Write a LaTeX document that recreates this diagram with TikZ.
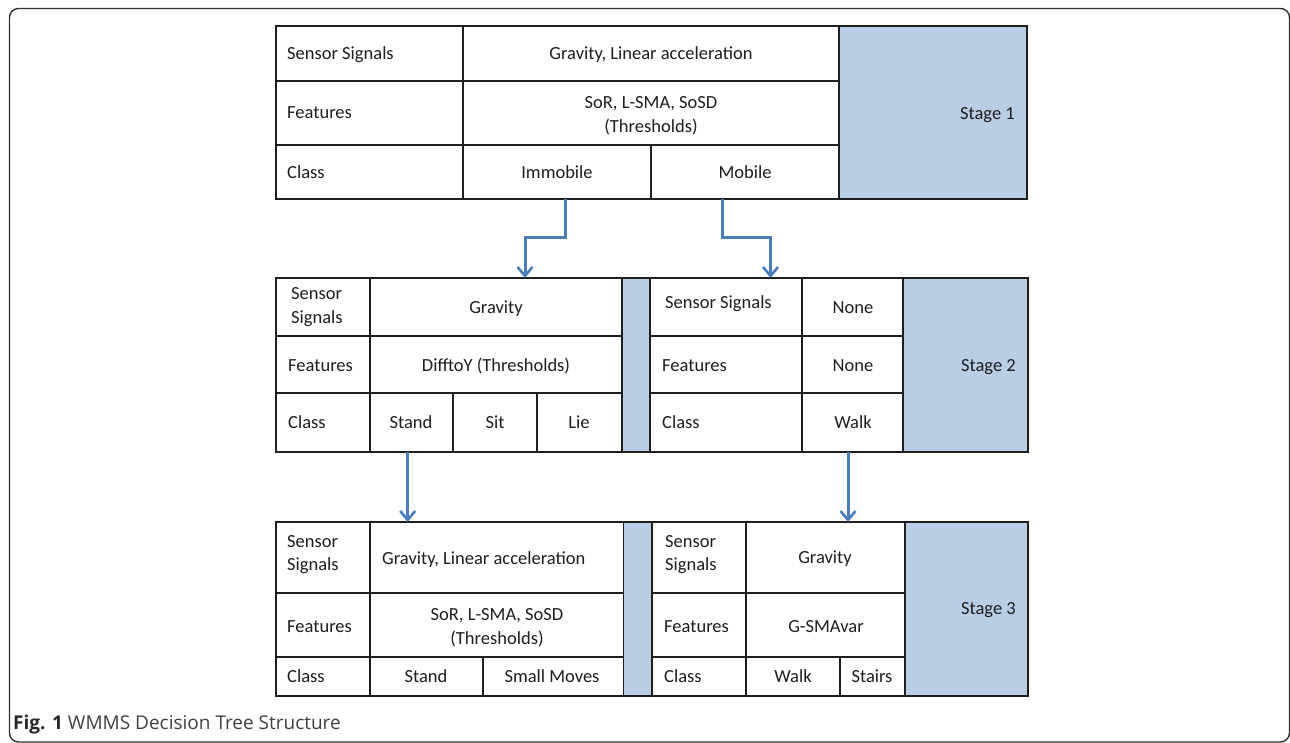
\documentclass[tikz,border=0pt]{standalone}
\usepackage{fontspec}
\setmainfont{Carlito}
\newfontfamily\capfont{Open Sans}
\usetikzlibrary{arrows.meta}
\definecolor{stageblue}{RGB}{185,205,229}
\definecolor{arrblue}{RGB}{74,126,187}
\definecolor{ink}{RGB}{30,30,30}
\definecolor{capgray}{RGB}{64,64,64}
\newcommand\mkcell[6][cellbox]{%
  \node[#1, minimum width={(#5-#3)*1pt}, minimum height={(#6-#4)*1pt}] (#2) at ({(#3+#5)/2},{(#4+#6)/2}) {};}
\begin{document}
\begin{tikzpicture}[x=1pt,y=-1pt,
  cellbox/.style={draw=ink, line width=1.9pt, fill=white, inner sep=0pt, outer sep=0pt, rectangle},
  bluebox/.style={cellbox, fill=stageblue},
  txt/.style={inner sep=0pt, text=ink, font=\fontsize{18.5}{22}\selectfont, text height=11.9pt, text depth=0pt},
  ltxt/.style={txt, anchor=west},
  btxt/.style={inner sep=0pt, text=ink, font=\fontsize{18.5}{22}\selectfont, anchor=base},
  bltxt/.style={btxt, anchor=base west},
  stagetxt/.style={txt, anchor=east},
  arr/.style={draw=arrblue, line width=3pt, -{Straight Barb[length=9pt,width=15pt,line width=2.6pt]}},
  frame/.style={draw=black!80, line width=1.4pt, rounded corners=9pt}]
\useasboundingbox (0,0) rectangle (1290,743);
\clip (0,0) rectangle (1290,743);
\draw[frame] (9.5,8.5) rectangle (1289.5,742);

% ---------- Stage 1 ----------
\mkcell{s1lab1}{276}{26}{463}{81}
\mkcell{s1lab2}{276}{81}{463}{145}
\mkcell{s1lab3}{276}{145}{463}{199}
\mkcell{s1sig}{463}{26}{839}{81}
\mkcell{s1feat}{463}{81}{839}{145}
\mkcell{s1imm}{463}{145}{651}{199}
\mkcell{s1mob}{651}{145}{839}{199}
\mkcell[bluebox]{s1stage}{839}{26}{1027}{199}
\node[ltxt] (t1a) at (287,54) {Sensor Signals};
\node[ltxt] (t1b) at (287,113) {Features};
\node[ltxt] (t1c) at (287,173) {Class};
\node[txt] (t1d) at (651,54) {Gravity, Linear acceleration};
\node[btxt] (t1e) at (651,109) {SoR, L-SMA, SoSD};
\node[btxt] (t1e2) at (651,133) {(Thresholds)};
\node[txt] (t1f) at (557,173) {Immobile};
\node[txt] (t1g) at (745,173) {Mobile};
\node[stagetxt] (t1s) at (1015,114) {Stage 1};

% ---------- Stage 2 ----------
\mkcell{s2lab1}{276}{278}{370}{336}
\mkcell{s2lab2}{276}{336}{370}{393}
\mkcell{s2lab3}{276}{393}{370}{452}
\mkcell{s2grav}{370}{278}{622}{336}
\mkcell{s2feat}{370}{336}{622}{393}
\mkcell{s2stand}{370}{393}{453}{452}
\mkcell{s2sit}{453}{393}{537}{452}
\mkcell{s2lie}{537}{393}{622}{452}
\mkcell[bluebox]{s2strip}{622}{278}{650}{452}
\mkcell{s2rlab1}{650}{278}{802}{336}
\mkcell{s2rlab2}{650}{336}{802}{393}
\mkcell{s2rlab3}{650}{393}{802}{452}
\mkcell{s2none1}{802}{278}{903}{336}
\mkcell{s2none2}{802}{336}{903}{393}
\mkcell{s2walk}{802}{393}{903}{452}
\mkcell[bluebox]{s2stage}{903}{278}{1028}{452}
\node[bltxt] (t2a) at (291,299) {Sensor};
\node[bltxt] (t2a2) at (291,323.5) {Signals};
\node[txt] (t2b) at (496,308) {Gravity};
\node[ltxt] (t2c) at (288,366) {Features};
\node[txt] (t2d) at (496,366) {DifftoY (Thresholds)};
\node[ltxt] (t2e) at (288,423) {Class};
\node[txt] (t2f) at (411,423) {Stand};
\node[txt] (t2g) at (495,423) {Sit};
\node[txt] (t2h) at (579,423) {Lie};
\node[ltxt] (t2i) at (665,303) {Sensor Signals};
\node[txt] (t2j) at (853,308) {None};
\node[ltxt] (t2k) at (662,366) {Features};
\node[txt] (t2l) at (853,366) {None};
\node[ltxt] (t2m) at (662,423) {Class};
\node[txt] (t2n) at (853,423) {Walk};
\node[stagetxt] (t2s) at (1016,366) {Stage 2};

% ---------- Stage 3 ----------
\mkcell{s3lab1}{276}{522}{370}{593}
\mkcell{s3lab2}{276}{593}{370}{657}
\mkcell{s3lab3}{276}{657}{370}{696}
\mkcell{s3gl}{370}{522}{623.5}{593}
\mkcell{s3feat}{370}{593}{623.5}{657}
\mkcell{s3stand}{370}{657}{483}{696}
\mkcell{s3small}{483}{657}{623.5}{696}
\mkcell[bluebox]{s3strip}{623.5}{522}{652}{696}
\mkcell{s3rlab1}{652}{522}{746}{593}
\mkcell{s3rlab2}{652}{593}{746}{657}
\mkcell{s3rlab3}{652}{657}{746}{696}
\mkcell{s3grav}{746}{522}{905}{593}
\mkcell{s3gsma}{746}{593}{905}{657}
\mkcell{s3walk}{746}{657}{840}{696}
\mkcell{s3stairs}{840}{657}{905}{696}
\mkcell[bluebox]{s3stage}{905}{522}{1028}{696}
\node[bltxt] (t3a) at (287,547) {Sensor};
\node[bltxt] (t3a2) at (287,570.5) {Signals};
\node[ltxt] (t3b) at (382,558.5) {Gravity, Linear acceleration};
\node[ltxt] (t3c) at (287,627) {Features};
\node[btxt] (t3d) at (497,620.5) {SoR, L-SMA, SoSD};
\node[btxt] (t3d2) at (497,644.5) {(Thresholds)};
\node[ltxt] (t3e) at (287,677) {Class};
\node[txt] (t3f) at (426,677) {Stand};
\node[txt] (t3g) at (552,677) {Small Moves};
\node[bltxt] (t3h) at (665,547) {Sensor};
\node[bltxt] (t3h2) at (665,570.5) {Signals};
\node[txt] (t3i) at (825,558) {Gravity};
\node[ltxt] (t3j) at (664,627) {Features};
\node[txt] (t3k) at (826,627) {G-SMAvar};
\node[ltxt] (t3l) at (664,677) {Class};
\node[txt] (t3m) at (793,677) {Walk};
\node[txt] (t3n) at (872,677) {Stairs};
\node[stagetxt] (t3s) at (1016,609) {Stage 3};

% ---------- Connectors ----------
\draw[arr] ([xshift=8.5pt]s1imm.south) -- ++(0,39) -| ([xshift=29pt]s2grav.north);
\draw[arr] ([xshift=-23pt]s1mob.south) -- ++(0,39) -| ([xshift=44.5pt]s2rlab1.north);
\draw[arr] ([xshift=-3.8pt]s2stand.south) -- ([xshift=-3.8pt]s2stand.south |- s3gl.north);
\draw[arr] ([xshift=-4.5pt]s2walk.south) -- ([xshift=-4.5pt]s2walk.south |- s3grav.north);

% ---------- Caption ----------
\node[anchor=base west, inner sep=0pt, font=\capfont\fontsize{19}{22}\selectfont, text=capgray] (cap) at (13,729) {\textbf{\color{black!85}Fig. 1} WMMS Decision Tree Structure};
\end{tikzpicture}
\end{document}
